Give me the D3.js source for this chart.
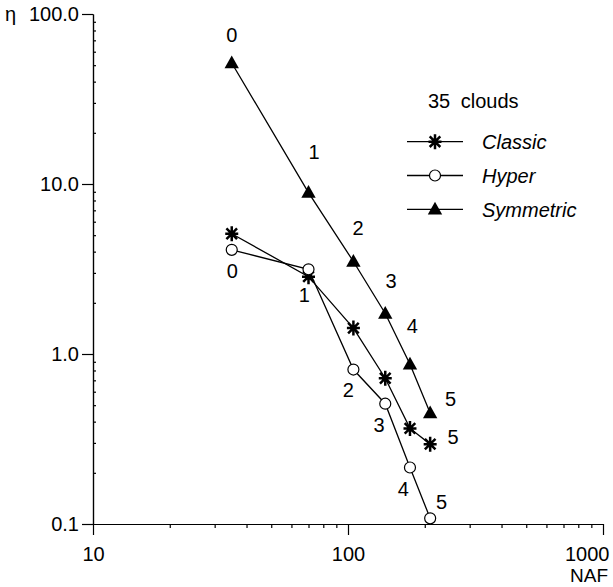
<!DOCTYPE html>
<html>
<head>
<meta charset="utf-8">
<script src="https://cdn.jsdelivr.net/npm/d3@7"></script>
<style>
  html, body { margin: 0; padding: 0; background: #fff; }
  svg { display: block; font-family: "Liberation Sans", Arial, sans-serif; }
</style>
</head>
<body>
<svg id="chart" width="613" height="587"></svg>
<script>
// NAF values (steps of 35 clouds) and eta for each method
const naf = [35, 70, 105, 140, 175, 210];
const classic = [5.1, 2.85, 1.42, 0.72, 0.365, 0.295];
const hyper = [4.1, 3.15, 0.81, 0.51, 0.215, 0.108];
const symmetric = [51.5, 8.9, 3.5, 1.73, 0.87, 0.45];
const stepLabels = ["0", "1", "2", "3", "4", "5"];

const xMajorTicks = [10, 100, 1000];
const yMajorTicks = [0.1, 1, 10, 100];

const svg = d3.select("#chart");

const x = d3.scaleLog().domain([10, 1000]).range([93, 603]);
const y = d3.scaleLog().domain([0.1, 100]).range([524, 14]);

// minor ticks 2..9 in each decade
function minorTicks(lo, hi) {
  const out = [];
  for (let d = lo; d < hi; d *= 10)
    for (let k = 2; k <= 9; k++) out.push(d * k);
  return out;
}

// x axis: short minor ticks below, major ticks below with labels
svg.append("g").attr("transform", `translate(0,${y(0.1)})`)
  .call(d3.axisBottom(x).tickValues(minorTicks(10, 1000)).tickSize(4).tickSizeOuter(0).tickFormat(""));
const gx = svg.append("g").attr("transform", `translate(0,${y(0.1)})`)
  .call(d3.axisBottom(x).tickValues(xMajorTicks).tickSize(11).tickSizeOuter(0)
    .tickPadding(12).tickFormat(d3.format("d")));
gx.selectAll("text").attr("font-size", 20).attr("fill", "#000");
gx.selectAll("text").filter(d => d === 1000).attr("text-anchor", "end").attr("x", 6);

// y axis: minor ticks inside, major ticks outside with labels
svg.append("g").attr("transform", `translate(${x(10)},0)`)
  .call(d3.axisRight(y).tickValues(minorTicks(0.1, 100)).tickSize(3).tickSizeOuter(0).tickFormat(""));
const gy = svg.append("g").attr("transform", `translate(${x(10)},0)`)
  .call(d3.axisLeft(y).tickValues(yMajorTicks).tickSize(11).tickSizeOuter(0)
    .tickPadding(3).tickFormat(d3.format(".1f")));
gy.selectAll("text").attr("font-size", 20).attr("fill", "#000");

svg.selectAll("g").attr("font-family", null);
svg.selectAll(".domain, .tick line").attr("stroke", "#000").attr("stroke-width", 1.2);

// axis titles
svg.append("text").attr("x", 5).attr("y", y(100) + 7).attr("font-size", 20).text("η");
svg.append("text").attr("x", 570).attr("y", 582).attr("font-size", 19).text("NAF");

// marker drawing
function drawMarker(g, type) {
  if (type === "circle") {
    g.append("circle").attr("r", 5.5).attr("fill", "#fff").attr("stroke", "#000").attr("stroke-width", 1.2);
  } else if (type === "triangle") {
    g.append("path").attr("d", "M0,-7.5L7.2,5.2L-7.2,5.2Z").attr("fill", "#000");
  } else {
    g.append("path")
      .attr("d", "M0,-7.5V7.5M-6.5,0H6.5M-5.3,-5.3L5.3,5.3M-5.3,5.3L5.3,-5.3")
      .attr("stroke", "#000").attr("stroke-width", 2.5).attr("fill", "none");
    g.append("circle").attr("r", 3).attr("fill", "#000");
  }
}

const series = [
  { name: "Classic", values: classic, marker: "star" },
  { name: "Hyper", values: hyper, marker: "circle" },
  { name: "Symmetric", values: symmetric, marker: "triangle" }
];

const line = d3.line().x(d => x(d[0])).y(d => y(d[1]));

series.forEach(s => {
  const pts = naf.map((n, i) => [n, s.values[i]]);
  svg.append("path").datum(pts).attr("d", line)
    .attr("fill", "none").attr("stroke", "#000").attr("stroke-width", 1.3);
});
series.forEach(s => {
  naf.forEach((n, i) => {
    const g = svg.append("g").attr("transform", `translate(${x(n)},${y(s.values[i])})`);
    drawMarker(g, s.marker);
  });
});

// step labels, placed relative to their points
const symLabelOffsets = [[0, -28], [5.5, -41], [4.6, -34], [5.7, -33], [2.3, -38], [20.5, -14]];
const hypLabelOffsets = [[0.6, 20.7], [-4.2, 25.7], [-5, 20], [-6.3, 21], [-6.7, 21.6], [11.5, -16.6]];
function stepLabel(n, v, off, txt) {
  svg.append("text")
    .attr("x", x(n) + off[0]).attr("y", y(v) + off[1]).attr("dy", "0.36em")
    .attr("text-anchor", "middle").attr("font-size", 20).text(txt);
}
naf.forEach((n, i) => {
  stepLabel(n, symmetric[i], symLabelOffsets[i], stepLabels[i]);
  stepLabel(n, hyper[i], hypLabelOffsets[i], stepLabels[i]);
});
stepLabel(naf[5], classic[5], [23, -7.6], stepLabels[5]);

// legend
const legend = svg.append("g");
legend.append("text").attr("x", 428).attr("y", 108).attr("font-size", 20)
  .attr("word-spacing", 5).text("35 clouds");
series.forEach((s, i) => {
  const ly = 141.7 + i * 33.8;
  legend.append("line").attr("x1", 407).attr("x2", 463).attr("y1", ly).attr("y2", ly)
    .attr("stroke", "#000").attr("stroke-width", 1.3);
  drawMarker(legend.append("g").attr("transform", `translate(435,${ly})`), s.marker);
  legend.append("text").attr("x", 482).attr("y", ly + 7.2).attr("font-size", 20)
    .attr("font-style", "italic").text(s.name);
});
</script>
</body>
</html>
